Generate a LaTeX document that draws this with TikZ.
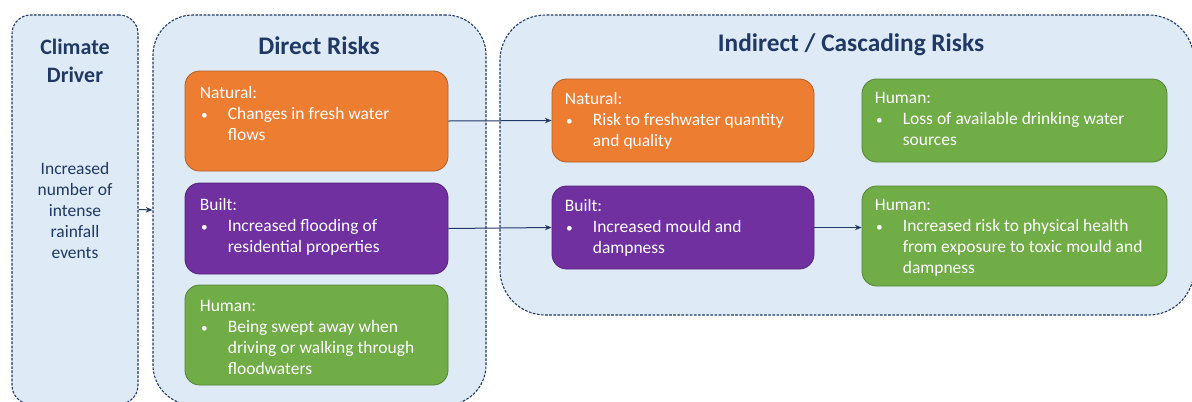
\documentclass[tikz,border=0pt]{standalone}
\usepackage{fontspec}
\setmainfont{Carlito}
\usetikzlibrary{arrows.meta}
\definecolor{navy}{HTML}{1F3864}
\definecolor{paleblue}{HTML}{DEEBF7}
\definecolor{natorange}{HTML}{ED7D31}
\definecolor{builtpurple}{HTML}{7030A0}
\definecolor{humangreen}{HTML}{70AD47}
\newcommand{\bodyfont}{\fontsize{13.1}{15.75}\selectfont}
\newcommand{\bul}[1]{\makebox[21pt][l]{\hspace{1pt}{\fontsize{10}{10}\selectfont\textbullet}}\begin{tabular}[t]{@{}l@{}}#1\end{tabular}}
\begin{document}
\begin{tikzpicture}[x=0.75pt,y=-0.75pt,
  group/.style={draw=navy,fill=paleblue,line width=0.8pt,dash pattern=on 2pt off 1.1pt,inner sep=0pt},
  riskbox/.style={draw=#1!75!black,fill=#1,line width=0.6pt,rounded corners=11pt,inner sep=0pt,minimum width=197.25pt},
  boxtext/.style={anchor=north west,inner sep=0pt,align=left,text=white,font=\bodyfont},
  title/.style={text=navy,font=\fontsize{19}{23}\selectfont\bfseries},
  link/.style={-{Stealth[length=5pt,width=4pt]},draw=navy,line width=0.75pt}]
\useasboundingbox (0,0) rectangle (1192,401);
\fill[white] (0,0) rectangle (1192,401);
\node[group,rounded corners=14pt,minimum width=94.5pt,minimum height=291.75pt] (climate) at (75,209.5) {};
\node[group,rounded corners=30pt,minimum width=249.75pt,minimum height=292.5pt] (direct) at (319.5,210) {};
\node[group,rounded corners=34pt,minimum width=520.5pt,minimum height=225pt] (indirect) at (847,165) {};
\node[title,font=\fontsize{16.5}{21}\selectfont\bfseries,align=center] (climate-t) at (75,61) {Climate\\Driver};
\node[text=navy,font=\bodyfont,align=center] (climate-d) at (75,210.5) {Increased\\number of\\intense\\rainfall\\events};
\node[title] (direct-t) at (319,46) {Direct Risks};
\node[title] (indirect-t) at (851,45) {Indirect / Cascading Risks};
\node[riskbox=natorange,minimum height=75pt] (dnat) at (316.5,121) {};
\node[riskbox=builtpurple,minimum height=68.25pt] (dbuilt) at (316.5,228.5) {};
\node[riskbox=humangreen,minimum height=75pt] (dhum) at (316.5,335) {};
\node[riskbox=natorange,minimum width=196.5pt,minimum height=62.25pt] (inat) at (683,120.5) {};
\node[riskbox=humangreen,minimum width=228.75pt,minimum height=62.25pt] (ihum1) at (1014.5,120.5) {};
\node[riskbox=builtpurple,minimum width=196.5pt,minimum height=62.25pt] (ibuilt) at (683,227.5) {};
\node[riskbox=humangreen,minimum width=228.75pt,minimum height=75pt] (ihum2) at (1014.5,236) {};
\node[boxtext] (dnat-t) at ([shift={(15,15)}]dnat.north west) {Natural:\\\bul{Changes in fresh water\\flows}};
\node[boxtext] (dbuilt-t) at ([shift={(15,15)}]dbuilt.north west) {Built:\\\bul{Increased flooding of\\residential properties}};
\node[boxtext] (dhum-t) at ([shift={(15,15)}]dhum.north west) {Human:\\\bul{Being swept away when\\driving or walking through\\floodwaters}};
\node[boxtext] (inat-t) at ([shift={(13,13)}]inat.north west) {Natural:\\\bul{Risk to freshwater quantity\\and quality}};
\node[boxtext] (ihum1-t) at ([shift={(13,13)}]ihum1.north west) {Human:\\\bul{Loss of available drinking water\\sources}};
\node[boxtext] (ibuilt-t) at ([shift={(13,13)}]ibuilt.north west) {Built:\\\bul{Increased mould and\\dampness}};
\node[boxtext] (ihum2-t) at ([shift={(13,13)}]ihum2.north west) {Human:\\\bul{Increased risk to physical health\\from exposure to toxic mould and\\dampness}};
\draw[link] (climate.east) -- (direct.west);
\draw[link] (dnat.east) -- (inat.west);
\draw[link] (dbuilt.east) -- (ibuilt.west);
\draw[link] (ibuilt.east) -- (ibuilt.east -| ihum2.west);
\end{tikzpicture}
\end{document}
